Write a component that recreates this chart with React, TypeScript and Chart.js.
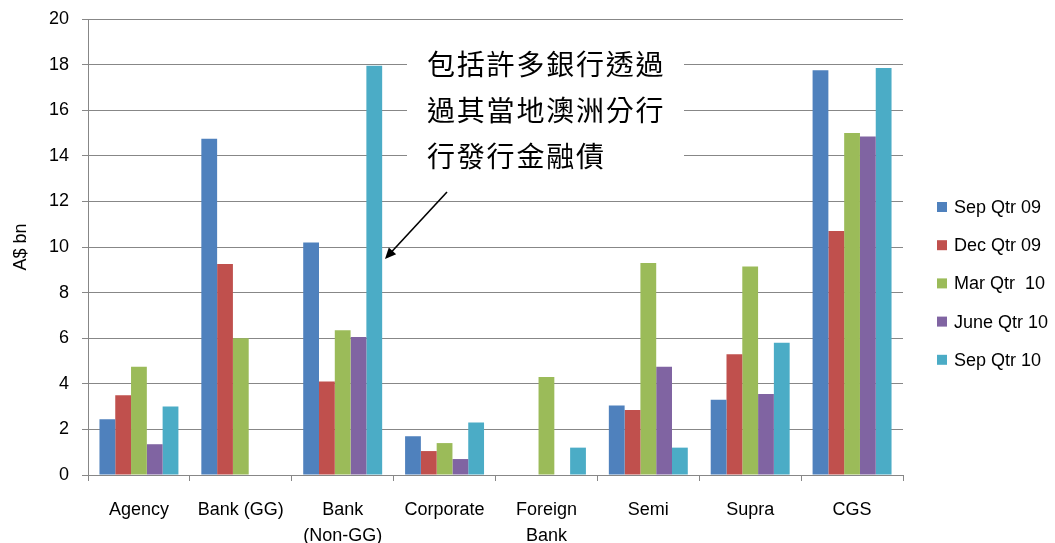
import React, { useEffect, useRef } from 'react';
import { Chart, registerables } from 'chart.js';

Chart.register(...registerables);

const categories: string[][] = [
  ['Agency'],
  ['Bank (GG)'],
  ['Bank', '(Non-GG)'],
  ['Corporate'],
  ['Foreign', 'Bank'],
  ['Semi'],
  ['Supra'],
  ['CGS'],
];

const seriesNames = ['Sep Qtr 09', 'Dec Qtr 09', 'Mar Qtr  10', 'June Qtr 10', 'Sep Qtr 10'];

const sepQtr09 = [2.45, 14.75, 10.2, 1.7, 0, 3.05, 3.3, 17.75];
const decQtr09 = [3.5, 9.25, 4.1, 1.05, 0, 2.85, 5.3, 10.7];
const marQtr10 = [4.75, 6.0, 6.35, 1.4, 4.3, 9.3, 9.15, 15.0];
const juneQtr10 = [1.35, 0, 6.05, 0.7, 0, 4.75, 3.55, 14.85];
const sepQtr10 = [3.0, 0, 17.95, 2.3, 1.2, 1.2, 5.8, 17.85];

const seriesValues = [sepQtr09, decQtr09, marQtr10, juneQtr10, sepQtr10];
const seriesColors = ['#4F81BD', '#C0504D', '#9BBB59', '#8064A2', '#4BACC6'];

const yMin = 0;
const yMax = 20;
const yStep = 2;
const yTitle = 'A$ bn';

const annotationLines = ['包括許多銀行透過', '過其當地澳洲分行', '行發行金融債'];

const FONT = '"Liberation Sans", Arial, sans-serif';
const CJK_FONT = '"Noto Sans CJK TC", "Noto Sans CJK SC", sans-serif';
const GRID = '#878787';

const overlayPlugin = {
  id: 'overlay',
  afterDraw(chart: any) {
    const ctx = chart.ctx as CanvasRenderingContext2D;
    ctx.save();
    // Annotation text box (white background hides gridlines)
    ctx.fillStyle = '#ffffff';
    ctx.fillRect(407, 40, 277, 140);
    ctx.fillStyle = '#000000';
    ctx.font = `400 28px ${CJK_FONT}`;
    ctx.textBaseline = 'middle';
    ctx.textAlign = 'left';
    const lineY = [64, 110, 156];
    annotationLines.forEach((line, i) => {
      const chars = Array.from(line);
      chars.forEach((ch, j) => {
        ctx.fillText(ch, 427 + j * 29.8, lineY[i]);
      });
    });
    // Arrow
    const x1 = 447, y1 = 192, x2 = 385, y2 = 259;
    const ang = Math.atan2(y2 - y1, x2 - x1);
    const headLen = 11;
    const headW = 5;
    ctx.strokeStyle = '#000000';
    ctx.lineWidth = 1.6;
    ctx.beginPath();
    ctx.moveTo(x1, y1);
    ctx.lineTo(x2 - Math.cos(ang) * headLen * 0.8, y2 - Math.sin(ang) * headLen * 0.8);
    ctx.stroke();
    ctx.beginPath();
    ctx.moveTo(x2, y2);
    ctx.lineTo(
      x2 - Math.cos(ang) * headLen + Math.sin(ang) * headW,
      y2 - Math.sin(ang) * headLen - Math.cos(ang) * headW
    );
    ctx.lineTo(
      x2 - Math.cos(ang) * headLen - Math.sin(ang) * headW,
      y2 - Math.sin(ang) * headLen + Math.cos(ang) * headW
    );
    ctx.closePath();
    ctx.fillStyle = '#000000';
    ctx.fill();

    // Legend
    ctx.font = `18px ${FONT}`;
    ctx.textBaseline = 'middle';
    chart.data.datasets.forEach((ds: any, i: number) => {
      const cy = 207 + i * 38.2;
      ctx.fillStyle = ds.backgroundColor;
      ctx.fillRect(937, cy - 5, 10, 10);
      ctx.fillStyle = '#000000';
      ctx.fillText(ds.label, 954, cy + 1);
    });
    ctx.restore();
  },
};

export default function App() {
  const ref = useRef<HTMLCanvasElement | null>(null);

  useEffect(() => {
    if (!ref.current) return;
    const chart = new Chart(ref.current, {
      type: 'bar',
      data: {
        labels: categories,
        datasets: seriesNames.map((name, i) => ({
          label: name,
          data: seriesValues[i],
          backgroundColor: seriesColors[i],
          borderWidth: 0,
          categoryPercentage: 0.775,
          barPercentage: 1,
        })),
      },
      options: {
        responsive: false,
        animation: false,
        devicePixelRatio: 1,
        layout: { padding: { top: 19, right: 152, left: 0, bottom: 0 } },
        font: { family: FONT },
        plugins: {
          legend: { display: false },
          tooltip: { enabled: false },
        },
        scales: {
          x: {
            grid: {
              display: true,
              drawOnChartArea: false,
              drawTicks: true,
              tickLength: 6,
              color: GRID,
              offset: true,
            },
            border: { color: GRID, width: 1 },
            ticks: {
              color: '#000000',
              font: { family: FONT, size: 18, lineHeight: 1.45 },
              padding: 16,
              maxRotation: 0,
              autoSkip: false,
            },
            afterFit: (scale: any) => {
              scale.height = 68;
            },
          },
          y: {
            min: yMin,
            max: yMax,
            ticks: {
              stepSize: yStep,
              color: '#000000',
              font: { family: FONT, size: 18 },
              padding: 13,
            },
            grid: {
              color: GRID,
              tickLength: 6,
              drawTicks: true,
            },
            border: { color: GRID, width: 1 },
            title: {
              display: true,
              text: yTitle,
              color: '#000000',
              font: { family: FONT, size: 18 },
              padding: { top: 10, bottom: 0 },
            },
            afterFit: (scale: any) => {
              scale.width = 88;
              scale.paddingTop = 10;
              scale.paddingBottom = 10;
            },
          },
        },
      },
      plugins: [overlayPlugin],
    });
    return () => chart.destroy();
  }, []);

  return (
    <div style={{ position: 'fixed', left: 0, top: 0, width: 1055, height: 543, background: '#fff' }}>
      <canvas ref={ref} width={1055} height={543} style={{ width: 1055, height: 543, display: 'block' }} />
    </div>
  );
}
